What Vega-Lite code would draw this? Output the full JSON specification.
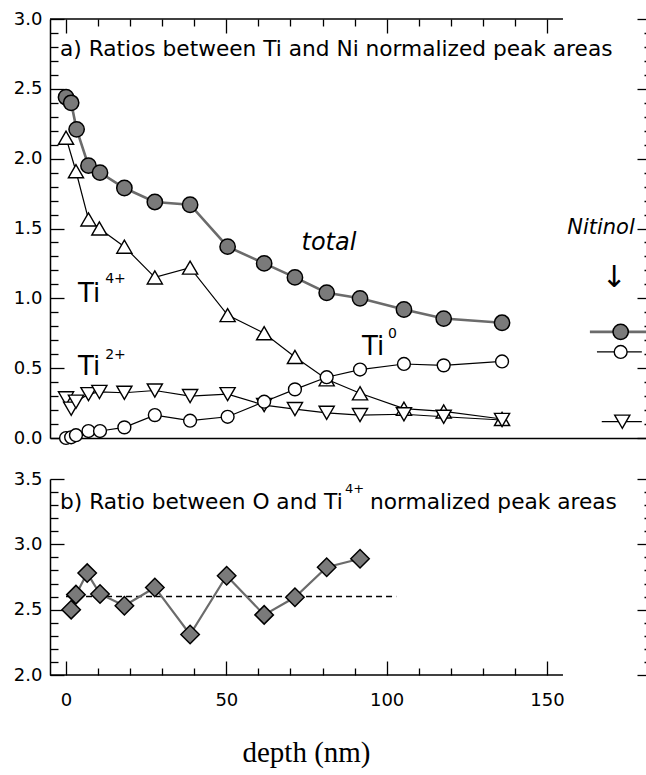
{
  "$schema": "https://vega.github.io/schema/vega-lite/v6.json",
  "padding": {"left": 13, "top": 10, "right": 0, "bottom": 5},
  "bounds": "flush",
  "spacing": 41,
  "config": {
    "view": {"stroke": null},
    "font": "DejaVu Sans",
    "axis": {"grid": false, "ticks": false, "labels": false, "domain": false, "labelOverlap": false, "labelFont": "DejaVu Sans", "labelFontSize": 18, "labelColor": "black", "domainColor": "black", "tickColor": "black", "domainWidth": 1.5, "tickWidth": 1.3}
  },
  "data": {"values": [
    {"series": "total", "depth": 0, "ratio": 2.44}, {"series": "total", "depth": 1.6, "ratio": 2.40}, {"series": "total", "depth": 3.3, "ratio": 2.21}, {"series": "total", "depth": 7.0, "ratio": 1.95},
    {"series": "total", "depth": 10.6, "ratio": 1.90}, {"series": "total", "depth": 18.2, "ratio": 1.79}, {"series": "total", "depth": 27.7, "ratio": 1.69}, {"series": "total", "depth": 38.7, "ratio": 1.67},
    {"series": "total", "depth": 50.4, "ratio": 1.37}, {"series": "total", "depth": 61.8, "ratio": 1.25}, {"series": "total", "depth": 71.4, "ratio": 1.15}, {"series": "total", "depth": 81.3, "ratio": 1.04},
    {"series": "total", "depth": 91.7, "ratio": 1.00}, {"series": "total", "depth": 105.4, "ratio": 0.92}, {"series": "total", "depth": 117.8, "ratio": 0.855}, {"series": "total", "depth": 136.0, "ratio": 0.825},
    {"series": "Ti4+", "depth": 0, "ratio": 2.15}, {"series": "Ti4+", "depth": 3.1, "ratio": 1.91}, {"series": "Ti4+", "depth": 7.0, "ratio": 1.565}, {"series": "Ti4+", "depth": 10.4, "ratio": 1.50},
    {"series": "Ti4+", "depth": 18.2, "ratio": 1.37}, {"series": "Ti4+", "depth": 27.7, "ratio": 1.15}, {"series": "Ti4+", "depth": 38.7, "ratio": 1.22}, {"series": "Ti4+", "depth": 50.4, "ratio": 0.88},
    {"series": "Ti4+", "depth": 61.8, "ratio": 0.75}, {"series": "Ti4+", "depth": 71.4, "ratio": 0.58}, {"series": "Ti4+", "depth": 81.3, "ratio": 0.42}, {"series": "Ti4+", "depth": 91.7, "ratio": 0.32},
    {"series": "Ti4+", "depth": 105.4, "ratio": 0.21}, {"series": "Ti4+", "depth": 117.8, "ratio": 0.19}, {"series": "Ti4+", "depth": 136.0, "ratio": 0.136},
    {"series": "Ti2+", "depth": 0, "ratio": 0.284}, {"series": "Ti2+", "depth": 1.6, "ratio": 0.21}, {"series": "Ti2+", "depth": 3.1, "ratio": 0.26}, {"series": "Ti2+", "depth": 7.0, "ratio": 0.314},
    {"series": "Ti2+", "depth": 10.4, "ratio": 0.33}, {"series": "Ti2+", "depth": 18.2, "ratio": 0.324}, {"series": "Ti2+", "depth": 27.7, "ratio": 0.34}, {"series": "Ti2+", "depth": 38.7, "ratio": 0.30},
    {"series": "Ti2+", "depth": 50.4, "ratio": 0.314}, {"series": "Ti2+", "depth": 61.8, "ratio": 0.236}, {"series": "Ti2+", "depth": 71.4, "ratio": 0.207}, {"series": "Ti2+", "depth": 81.3, "ratio": 0.18},
    {"series": "Ti2+", "depth": 91.7, "ratio": 0.164}, {"series": "Ti2+", "depth": 105.4, "ratio": 0.17}, {"series": "Ti2+", "depth": 117.8, "ratio": 0.152}, {"series": "Ti2+", "depth": 136.0, "ratio": 0.129},
    {"series": "Ti0", "depth": 0, "ratio": 0.0}, {"series": "Ti0", "depth": 1.6, "ratio": 0.005}, {"series": "Ti0", "depth": 3.1, "ratio": 0.02}, {"series": "Ti0", "depth": 7.0, "ratio": 0.05},
    {"series": "Ti0", "depth": 10.6, "ratio": 0.05}, {"series": "Ti0", "depth": 18.2, "ratio": 0.076}, {"series": "Ti0", "depth": 27.7, "ratio": 0.164}, {"series": "Ti0", "depth": 38.7, "ratio": 0.124},
    {"series": "Ti0", "depth": 50.4, "ratio": 0.152}, {"series": "Ti0", "depth": 61.8, "ratio": 0.26}, {"series": "Ti0", "depth": 71.4, "ratio": 0.348}, {"series": "Ti0", "depth": 81.3, "ratio": 0.435},
    {"series": "Ti0", "depth": 91.7, "ratio": 0.49}, {"series": "Ti0", "depth": 105.4, "ratio": 0.53}, {"series": "Ti0", "depth": 117.8, "ratio": 0.52}, {"series": "Ti0", "depth": 136.0, "ratio": 0.548},
    {"series": "O/Ti4+", "depth": 1.6, "ratio": 2.50}, {"series": "O/Ti4+", "depth": 3.1, "ratio": 2.615}, {"series": "O/Ti4+", "depth": 6.6, "ratio": 2.78}, {"series": "O/Ti4+", "depth": 10.6, "ratio": 2.62},
    {"series": "O/Ti4+", "depth": 18.2, "ratio": 2.53}, {"series": "O/Ti4+", "depth": 27.7, "ratio": 2.67}, {"series": "O/Ti4+", "depth": 38.7, "ratio": 2.31}, {"series": "O/Ti4+", "depth": 50.1, "ratio": 2.76},
    {"series": "O/Ti4+", "depth": 61.8, "ratio": 2.46}, {"series": "O/Ti4+", "depth": 71.4, "ratio": 2.595}, {"series": "O/Ti4+", "depth": 81.3, "ratio": 2.825}, {"series": "O/Ti4+", "depth": 91.7, "ratio": 2.89}
  ]},
  "vconcat": [
    {
      "width": 596,
      "height": 419,
      "resolve": {"axis": {"x": "independent", "y": "independent"}},
      "layer": [
        {
          "data": {"values": [{"x1": -5, "x2": 155, "y": 3}]},
          "mark": {"type": "rule", "color": "black", "strokeWidth": 1.5},
          "encoding": {
            "x": {"field": "x1", "type": "quantitative", "title": null, "scale": {"domain": [-5, 180.9], "nice": false, "zero": false},
                  "axis": {"orient": "top", "ticks": true, "values": [0,10,20,30,40,50,60,70,80,90,100,110,120,130,140,150],
                           "tickSize": {"condition": {"test": "datum.value % 50 === 0", "value": -14}, "value": -7}}},
            "x2": {"field": "x2"},
            "y": {"field": "y", "type": "quantitative", "title": null, "scale": {"domain": [0, 3], "nice": false, "zero": false},
                  "axis": {"orient": "left", "ticks": true, "labels": true, "domain": true,
                           "values": [0,0.1,0.2,0.3,0.4,0.5,0.6,0.7,0.8,0.9,1,1.1,1.2,1.3,1.4,1.5,1.6,1.7,1.8,1.9,2,2.1,2.2,2.3,2.4,2.5,2.6,2.7,2.8,2.9,3],
                           "format": ".1f",
                           "tickSize": {"condition": {"test": "abs(datum.value*2 - round(datum.value*2)) < 0.001", "value": -14}, "value": -8},
                           "labelExpr": "abs(datum.value*2 - round(datum.value*2)) < 0.001 ? datum.label : ''",
                           "labelPadding": 22}}
          }
        },
        {
          "data": {"values": [{"x1": 163.4, "x2": 181, "ratio": 0.76}]},
          "mark": {"type": "rule", "color": "#6b6b6b", "strokeWidth": 2.6},
          "encoding": {
            "x": {"field": "x1", "type": "quantitative", "title": null, "axis": {"orient": "bottom", "domain": true}},
            "x2": {"field": "x2"},
            "y": {"field": "ratio", "type": "quantitative", "title": null,
                  "axis": {"orient": "right", "ticks": true,
                           "values": [0,0.1,0.2,0.3,0.4,0.5,0.6,0.7,0.8,0.9,1,1.1,1.2,1.3,1.4,1.5,1.6,1.7,1.8,1.9,2,2.1,2.2,2.3,2.4,2.5,2.6,2.7,2.8,2.9,3],
                           "tickSize": {"condition": {"test": "abs(datum.value*2 - round(datum.value*2)) < 0.001", "value": -9}, "value": -2}}}
          }
        },
        {
          "transform": [{"filter": "datum.series === 'Ti4+'"}],
          "mark": {"type": "line", "color": "black", "strokeWidth": 1.2},
          "encoding": {"x": {"field": "depth", "type": "quantitative", "title": null}, "y": {"field": "ratio", "type": "quantitative", "title": null}}
        },
        {
          "transform": [{"filter": "datum.series === 'Ti2+'"}],
          "mark": {"type": "line", "color": "black", "strokeWidth": 1.2},
          "encoding": {"x": {"field": "depth", "type": "quantitative", "title": null}, "y": {"field": "ratio", "type": "quantitative", "title": null}}
        },
        {
          "transform": [{"filter": "datum.series === 'Ti0'"}],
          "mark": {"type": "line", "color": "black", "strokeWidth": 1.2},
          "encoding": {"x": {"field": "depth", "type": "quantitative", "title": null}, "y": {"field": "ratio", "type": "quantitative", "title": null}}
        },
        {
          "transform": [{"filter": "datum.series === 'Ti4+'"}],
          "mark": {"type": "point", "shape": "triangle-up", "size": 230, "fill": "white", "stroke": "black", "strokeWidth": 1.4, "opacity": 1, "fillOpacity": 1},
          "encoding": {"x": {"field": "depth", "type": "quantitative", "title": null}, "y": {"field": "ratio", "type": "quantitative", "title": null}}
        },
        {
          "transform": [{"filter": "datum.series === 'Ti2+'"}],
          "mark": {"type": "point", "shape": "triangle-down", "size": 230, "fill": "white", "stroke": "black", "strokeWidth": 1.4, "opacity": 1, "fillOpacity": 1},
          "encoding": {"x": {"field": "depth", "type": "quantitative", "title": null}, "y": {"field": "ratio", "type": "quantitative", "title": null}}
        },
        {
          "transform": [{"filter": "datum.series === 'Ti0'"}],
          "mark": {"type": "point", "shape": "circle", "size": 165, "fill": "white", "stroke": "black", "strokeWidth": 1.4, "opacity": 1, "fillOpacity": 1},
          "encoding": {"x": {"field": "depth", "type": "quantitative", "title": null}, "y": {"field": "ratio", "type": "quantitative", "title": null}}
        },
        {
          "transform": [{"filter": "datum.series === 'total'"}],
          "mark": {"type": "line", "color": "#6b6b6b", "strokeWidth": 2.6},
          "encoding": {"x": {"field": "depth", "type": "quantitative", "title": null}, "y": {"field": "ratio", "type": "quantitative", "title": null}}
        },
        {
          "transform": [{"filter": "datum.series === 'total'"}],
          "mark": {"type": "point", "shape": "circle", "size": 235, "fill": "#7a7a7a", "stroke": "black", "strokeWidth": 1.5, "opacity": 1, "fillOpacity": 1},
          "encoding": {"x": {"field": "depth", "type": "quantitative", "title": null}, "y": {"field": "ratio", "type": "quantitative", "title": null}}
        },
        {
          "data": {"values": [{"x1": 165.6, "x2": 179.6, "ratio": 0.616}, {"x1": 167.1, "x2": 179.6, "ratio": 0.117}]},
          "mark": {"type": "rule", "color": "black", "strokeWidth": 1.2},
          "encoding": {"x": {"field": "x1", "type": "quantitative", "title": null}, "x2": {"field": "x2"}, "y": {"field": "ratio", "type": "quantitative", "title": null}}
        },
        {
          "data": {"values": [{"depth": 173, "ratio": 0.76}]},
          "mark": {"type": "point", "shape": "circle", "size": 235, "fill": "#7a7a7a", "stroke": "black", "strokeWidth": 1.5, "opacity": 1, "fillOpacity": 1},
          "encoding": {"x": {"field": "depth", "type": "quantitative", "title": null}, "y": {"field": "ratio", "type": "quantitative", "title": null}}
        },
        {
          "data": {"values": [{"depth": 173, "ratio": 0.616}]},
          "mark": {"type": "point", "shape": "circle", "size": 165, "fill": "white", "stroke": "black", "strokeWidth": 1.4, "opacity": 1, "fillOpacity": 1},
          "encoding": {"x": {"field": "depth", "type": "quantitative", "title": null}, "y": {"field": "ratio", "type": "quantitative", "title": null}}
        },
        {
          "data": {"values": [{"depth": 173.5, "ratio": 0.117}]},
          "mark": {"type": "point", "shape": "triangle-down", "size": 230, "fill": "white", "stroke": "black", "strokeWidth": 1.4, "opacity": 1, "fillOpacity": 1},
          "encoding": {"x": {"field": "depth", "type": "quantitative", "title": null}, "y": {"field": "ratio", "type": "quantitative", "title": null}}
        },
        {
          "data": {"values": [{"t": "a) Ratios between Ti and Ni normalized peak areas", "depth": -1.87, "ratio": 2.736}]},
          "mark": {"type": "text", "font": "DejaVu Sans", "fontSize": 21.7, "align": "left", "baseline": "alphabetic", "color": "black"},
          "encoding": {"x": {"field": "depth", "type": "quantitative", "title": null}, "y": {"field": "ratio", "type": "quantitative", "title": null}, "text": {"field": "t"}}
        },
        {
          "data": {"values": [{"t": "Ti", "depth": 3.74, "ratio": 0.971}, {"t": "Ti", "depth": 3.74, "ratio": 0.45}, {"t": "Ti", "depth": 92.3, "ratio": 0.593}]},
          "mark": {"type": "text", "font": "DejaVu Sans", "fontSize": 26, "align": "left", "baseline": "alphabetic", "color": "black"},
          "encoding": {"x": {"field": "depth", "type": "quantitative", "title": null}, "y": {"field": "ratio", "type": "quantitative", "title": null}, "text": {"field": "t"}}
        },
        {
          "data": {"values": [{"t": "4+", "depth": 12.2, "ratio": 1.107}, {"t": "2+", "depth": 12.2, "ratio": 0.564}, {"t": "0", "depth": 100.4, "ratio": 0.714}]},
          "mark": {"type": "text", "font": "DejaVu Sans", "fontSize": 14, "align": "left", "baseline": "alphabetic", "color": "black"},
          "encoding": {"x": {"field": "depth", "type": "quantitative", "title": null}, "y": {"field": "ratio", "type": "quantitative", "title": null}, "text": {"field": "t"}}
        },
        {
          "data": {"values": [{"t": "total", "depth": 82, "ratio": 1.343}]},
          "mark": {"type": "text", "font": "DejaVu Sans", "fontStyle": "italic", "fontSize": 24, "align": "center", "baseline": "alphabetic", "color": "black"},
          "encoding": {"x": {"field": "depth", "type": "quantitative", "title": null}, "y": {"field": "ratio", "type": "quantitative", "title": null}, "text": {"field": "t"}}
        },
        {
          "data": {"values": [{"t": "Nitinol", "depth": 177.4, "ratio": 1.464}]},
          "mark": {"type": "text", "font": "DejaVu Sans", "fontStyle": "italic", "fontSize": 21, "align": "right", "baseline": "alphabetic", "color": "black"},
          "encoding": {"x": {"field": "depth", "type": "quantitative", "title": null}, "y": {"field": "ratio", "type": "quantitative", "title": null}, "text": {"field": "t"}}
        },
        {
          "data": {"values": [{"t": "↓", "depth": 170.9, "ratio": 1.143}]},
          "mark": {"type": "text", "font": "DejaVu Sans", "fontSize": 30, "align": "center", "baseline": "middle", "color": "black"},
          "encoding": {"x": {"field": "depth", "type": "quantitative", "title": null}, "y": {"field": "ratio", "type": "quantitative", "title": null}, "text": {"field": "t"}}
        }
      ]
    },
    {
      "width": 596,
      "height": 196,
      "resolve": {"axis": {"x": "independent", "y": "independent"}},
      "layer": [
        {
          "data": {"values": [{"x1": -5, "x2": 155, "y": 2}]},
          "mark": {"type": "rule", "color": "black", "strokeWidth": 1.5},
          "encoding": {
            "x": {"field": "x1", "type": "quantitative", "title": "depth (nm)", "scale": {"domain": [-5, 180.9], "nice": false, "zero": false},
                  "axis": {"orient": "bottom", "ticks": true, "labels": true, "values": [0,10,20,30,40,50,60,70,80,90,100,110,120,130,140,150],
                           "tickSize": {"condition": {"test": "datum.value % 50 === 0", "value": -14}, "value": -7},
                           "labelExpr": "datum.value % 50 === 0 ? datum.label : ''",
                           "labelPadding": 30,
                           "titleFont": "Liberation Serif", "titleFontSize": 29, "titleFontWeight": "normal", "titleColor": "black",
                           "titleX": 256, "titleY": 86, "titleBaseline": "alphabetic", "titleAlign": "center"}},
            "x2": {"field": "x2"},
            "y": {"field": "y", "type": "quantitative", "title": null, "scale": {"domain": [2, 3.5], "nice": false, "zero": false},
                  "axis": {"orient": "left", "ticks": true, "labels": true, "domain": true,
                           "values": [2,2.1,2.2,2.3,2.4,2.5,2.6,2.7,2.8,2.9,3,3.1,3.2,3.3,3.4,3.5], "format": ".1f",
                           "tickSize": {"condition": {"test": "abs(datum.value*2 - round(datum.value*2)) < 0.001", "value": -14}, "value": -8},
                           "labelExpr": "abs(datum.value*2 - round(datum.value*2)) < 0.001 ? datum.label : ''",
                           "labelPadding": 22}}
          }
        },
        {
          "data": {"values": [{"x1": 0, "x2": 103, "y": 2.6}]},
          "mark": {"type": "rule", "color": "black", "strokeWidth": 1.5, "strokeDash": [6, 4]},
          "encoding": {
            "x": {"field": "x1", "type": "quantitative", "title": null},
            "x2": {"field": "x2"},
            "y": {"field": "y", "type": "quantitative", "title": null,
                  "axis": {"orient": "right", "ticks": true,
                           "values": [2,2.1,2.2,2.3,2.4,2.5,2.6,2.7,2.8,2.9,3,3.1,3.2,3.3,3.4,3.5],
                           "tickSize": {"condition": {"test": "abs(datum.value*2 - round(datum.value*2)) < 0.001", "value": -9}, "value": -2}}}
          }
        },
        {
          "transform": [{"filter": "datum.series === 'O/Ti4+'"}],
          "mark": {"type": "line", "color": "#6b6b6b", "strokeWidth": 2.2},
          "encoding": {"x": {"field": "depth", "type": "quantitative", "title": null}, "y": {"field": "ratio", "type": "quantitative", "title": null}}
        },
        {
          "transform": [{"filter": "datum.series === 'O/Ti4+'"}],
          "mark": {"type": "point", "shape": "diamond", "size": 340, "fill": "#7a7a7a", "stroke": "black", "strokeWidth": 1.5, "opacity": 1, "fillOpacity": 1},
          "encoding": {"x": {"field": "depth", "type": "quantitative", "title": null}, "y": {"field": "ratio", "type": "quantitative", "title": null}}
        },
        {
          "data": {"values": [{"t": "b) Ratio between O and Ti", "depth": -1.87, "ratio": 3.269}, {"t": "normalized peak areas", "depth": 94.8, "ratio": 3.269}]},
          "mark": {"type": "text", "font": "DejaVu Sans", "fontSize": 21.7, "align": "left", "baseline": "alphabetic", "color": "black"},
          "encoding": {"x": {"field": "depth", "type": "quantitative", "title": null}, "y": {"field": "ratio", "type": "quantitative", "title": null}, "text": {"field": "t"}}
        },
        {
          "data": {"values": [{"t": "4+", "depth": 87.0, "ratio": 3.392}]},
          "mark": {"type": "text", "font": "DejaVu Sans", "fontSize": 13, "align": "left", "baseline": "alphabetic", "color": "black"},
          "encoding": {"x": {"field": "depth", "type": "quantitative", "title": null}, "y": {"field": "ratio", "type": "quantitative", "title": null}, "text": {"field": "t"}}
        }
      ]
    }
  ]
}
